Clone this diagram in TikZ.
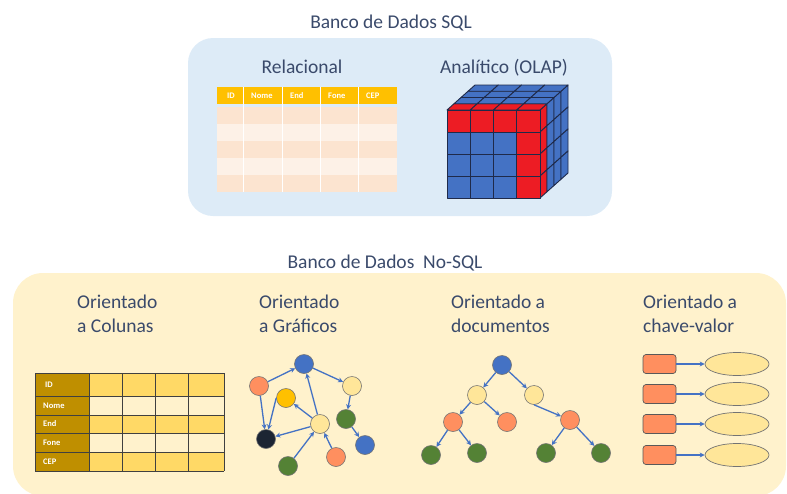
\documentclass[tikz,border=0pt]{standalone}
\usepackage{fontspec}
\setmainfont{Carlito}
\usepackage{xcolor}
\usetikzlibrary{arrows.meta, positioning, shapes.geometric}

\definecolor{textnavy}{HTML}{3A4A6B}
\definecolor{sqlfill}{HTML}{DDEBF7}
\definecolor{nosqlfill}{HTML}{FFF2CC}
\definecolor{headgold}{HTML}{FFC000}
\definecolor{rowdark}{HTML}{FCE4D0}
\definecolor{rowlight}{HTML}{FDF1E7}
\definecolor{olapblue}{HTML}{4472C4}
\definecolor{olapred}{HTML}{ED1C24}
\definecolor{olapedge}{HTML}{1F2A4A}
\definecolor{colkey}{HTML}{BF8F00}
\definecolor{colcell}{HTML}{FFD966}
\definecolor{colpale}{HTML}{FFF2CC}
\definecolor{arrowblue}{HTML}{4472C4}
\definecolor{nodeblue}{HTML}{4472C4}
\definecolor{nodeorange}{HTML}{FF8F5F}
\definecolor{nodeyellow}{HTML}{FFE699}
\definecolor{nodegold}{HTML}{FFC000}
\definecolor{nodegreen}{HTML}{548235}
\definecolor{nodedark}{HTML}{1C2533}

\begin{document}
\begin{tikzpicture}[
    x=1pt, y=-1pt,
    title/.style={
        text=textnavy,
        inner sep=0pt,
        font=\fontsize{19.5}{24}\selectfont
    },
    kind/.style={
        text=textnavy,
        inner sep=0pt,
        align=left,
        anchor=north west,
        font=\fontsize{19.5}{24}\selectfont
    },
    headtext/.style={
        text=white,
        inner sep=0pt,
        anchor=west,
        font=\fontsize{8.5}{10}\selectfont\bfseries
    },
    cube/.style={draw=olapedge, line width=0.9pt, line join=round},
    grid/.style={draw=black!75, line width=0.8pt},
    gnode/.style={
        circle,
        draw=black!55,
        line width=0.6pt,
        minimum size=19pt,
        inner sep=0pt
    },
    kbox/.style={
        rectangle,
        rounded corners=3pt,
        draw=black!65,
        line width=0.7pt,
        fill=nodeorange,
        minimum width=33pt,
        minimum height=19pt
    },
    vbox/.style={
        ellipse,
        draw=black!55,
        line width=0.7pt,
        fill=nodeyellow,
        minimum width=64pt,
        minimum height=23pt
    },
    arrow/.style={-{Stealth[length=5pt, width=5pt]}, draw=arrowblue, line width=1.3pt}
]

\useasboundingbox (0,0) rectangle (787,493);

% panels
\fill[sqlfill, rounded corners=25pt] (188,38) rectangle (612,216);
\fill[nosqlfill, rounded corners=30pt] (13,273) rectangle (786,496);

\node[title, anchor=base] (sqltitle) at (391,28) {Banco de Dados SQL};
\node[title, anchor=base] (nosqltitle) at (385,268) {Banco de Dados\ \ No-SQL};

\node[title, anchor=base] (relational) at (302,73) {Relacional};
\node[title, anchor=base] (olap) at (504,73) {Analítico (OLAP)};

% relational table
\fill[headgold] (217,87) rectangle (397,104);
\foreach \r in {0,...,4}{
    \ifodd\r \def\rowcol{rowlight}\else\def\rowcol{rowdark}\fi
    \fill[\rowcol] (217,107+\r*17) rectangle (397,124+\r*17);
}
\foreach \x in {243,282,320,358}
    \draw[white, line width=1pt] (\x,87) -- (\x,192);
\node[headtext] (hid)   at (227,95.5) {ID};
\node[headtext] (hnome) at (251,95.5) {Nome};
\node[headtext] (hend)  at (290,95.5) {End};
\node[headtext] (hfone) at (328,95.5) {Fone};
\node[headtext] (hcep)  at (366,95.5) {CEP};

% OLAP cube
\def\cw{23.25}
\def\ch{22}
\def\dx{7}
\def\dy{-6.25}
\foreach \i in {0,...,3}{
    \foreach \k in {0,...,3}{
        \ifnum\k=0 \def\cc{olapred}\else\def\cc{olapblue}\fi
        \filldraw[cube, fill=\cc]
            (447+\i*\cw+\k*\dx,110+\k*\dy) -- ++(\cw,0) -- ++(\dx,\dy) -- ++(-\cw,0) -- cycle;
        \filldraw[cube, fill=\cc]
            (540+\k*\dx,110+\i*\ch+\k*\dy) -- ++(\dx,\dy) -- ++(0,\ch) -- ++(-\dx,-\dy) -- cycle;
    }
}
\foreach \i in {0,...,3}{
    \foreach \j in {0,...,3}{
        \ifnum\j=0 \def\cc{olapred}\else\ifnum\i=3 \def\cc{olapred}\else\def\cc{olapblue}\fi\fi
        \filldraw[cube, fill=\cc] (447+\i*\cw,110+\j*\ch) rectangle ++(\cw,\ch);
    }
}

% category labels
\node[kind] (columns)   at (77,295)  {Orientado\\a Colunas};
\node[kind] (graphs)    at (259,295) {Orientado\\a Gráficos};
\node[kind] (documents) at (451,295) {Orientado a\\documentos};
\node[kind] (keyvalue)  at (643,295) {Orientado a\\chave-valor};

% column table
\fill[colkey] (35,373) rectangle (89,471);
\fill[colcell] (89,373) rectangle (224,396);
\fill[colpale] (89,396) rectangle (224,415);
\fill[colcell] (89,415) rectangle (224,433);
\fill[colpale] (89,433) rectangle (224,452);
\fill[colcell] (89,452) rectangle (224,471);
\foreach \y in {373,396,415,433,452,471}
    \draw[grid] (35,\y) -- (224,\y);
\foreach \x in {35,89,122,155,188,224}
    \draw[grid] (\x,373) -- (\x,471);
\node[headtext] (cid)   at (45,384.5) {ID};
\node[headtext] (cnome) at (43,405.5) {Nome};
\node[headtext] (cend)  at (43,424)   {End};
\node[headtext] (cfone) at (43,442.5) {Fone};
\node[headtext] (ccep)  at (43,461.5) {CEP};

% graph
\node[gnode, fill=nodeblue]   (gtop)    at (304,364) {};
\node[gnode, fill=nodeorange] (gleft)   at (259,386) {};
\node[gnode, fill=nodegold]   (ggold)   at (286,398) {};
\node[gnode, fill=nodeyellow] (gright)  at (352,386) {};
\node[gnode, fill=nodegreen]  (ggreen)  at (346,419) {};
\node[gnode, fill=nodeyellow] (gcenter) at (320,424) {};
\node[gnode, fill=nodedark]   (gdark)   at (266,439) {};
\node[gnode, fill=nodeblue]   (gblue)   at (365,445) {};
\node[gnode, fill=nodeorange] (gorange) at (336,457) {};
\node[gnode, fill=nodegreen]  (gbottom) at (288,466) {};

\draw[arrow] (gleft) -- (gtop);
\draw[arrow] (gtop) -- (gright);
\draw[arrow] (gright) -- (ggreen);
\draw[arrow] (ggreen) -- (gblue);
\draw[arrow] (gleft) -- (gdark);
\draw[arrow] (ggold.west) -- (gdark);
\draw[arrow] (gcenter) -- (ggold);
\draw[arrow] (gcenter) -- (gtop);
\draw[arrow] (gcenter) -- (gdark);
\draw[arrow] (gbottom) -- (gcenter);
\draw[arrow] (gorange) -- (gcenter);

% document tree
\node[gnode, fill=nodeblue]   (droot) at (502,365) {};
\node[gnode, fill=nodeyellow] (dl)    at (477,395) {};
\node[gnode, fill=nodeyellow] (dr)    at (534,395) {};
\node[gnode, fill=nodeorange] (dll)   at (453,422) {};
\node[gnode, fill=nodeorange] (dlr)   at (507,422) {};
\node[gnode, fill=nodeorange] (drr)   at (570,420) {};
\node[gnode, fill=nodegreen]  (dg1)   at (431,455) {};
\node[gnode, fill=nodegreen]  (dg2)   at (477,453) {};
\node[gnode, fill=nodegreen]  (dg3)   at (546,453) {};
\node[gnode, fill=nodegreen]  (dg4)   at (601,453) {};

\draw[arrow] (droot) -- (dl);
\draw[arrow] (droot) -- (dr);
\draw[arrow] (dl) -- (dll);
\draw[arrow] (dl) -- (dlr);
\draw[arrow] (dr.south) -- (drr);
\draw[arrow] (dll) -- (dg1);
\draw[arrow] (dll) -- (dg2);
\draw[arrow] (drr) -- (dg3);
\draw[arrow] (drr) -- (dg4);

% key-value pairs
\foreach \n/\y in {1/364,2/394,3/424,4/455}{
    \node[kbox] (key\n) at (659.5,\y) {};
    \node[vbox] (val\n) at (737,\y) {};
    \draw[arrow] (key\n) -- (val\n);
}

\end{tikzpicture}
\end{document}
